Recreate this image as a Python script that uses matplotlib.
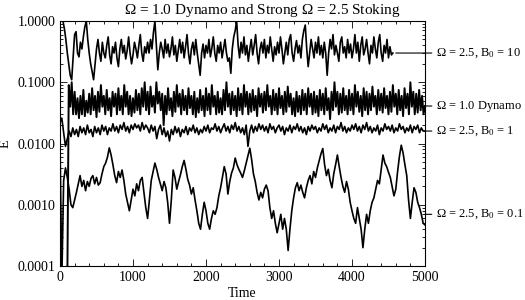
"""
Omega = 1.0 dynamo vs strong Omega = 2.5 stoking: energy E over time
"""
import numpy as np
import matplotlib
matplotlib.use('Agg')
import matplotlib.pyplot as plt
from matplotlib.ticker import FormatStrFormatter, MultipleLocator, LogLocator

plt.rcParams['font.family'] = ['Liberation Serif', 'DejaVu Serif']
plt.rcParams['mathtext.fontset'] = 'custom'
plt.rcParams['mathtext.rm'] = 'Liberation Serif'
plt.rcParams['mathtext.it'] = 'Liberation Serif:italic'

# Omega = 2.5, B0 = 10 (t = 0..4560, step 20)
t_b10 = np.arange(0, 4561, 20)
e_b10 = [
    1.5, 1.2, 1.0, 0.75, 0.5, 0.3, 0.2, 0.13, 0.11, 0.25,
    0.6, 0.67, 0.3, 0.26, 0.45, 0.35, 0.55, 0.8, 1.0, 0.5,
    0.3, 0.2, 0.15, 0.11, 0.2, 0.35, 0.5, 0.3, 0.22, 0.45,
    0.3, 0.25, 0.4, 0.55, 0.28, 0.2, 0.38, 0.3, 0.45, 0.25,
    0.18, 0.35, 0.5, 0.3, 0.4, 0.24, 0.33, 0.55, 0.3, 0.2,
    0.28, 0.45, 0.35, 0.25, 0.4, 0.6, 0.3, 0.22, 0.38, 0.3,
    0.45, 0.3, 0.5, 0.35, 0.65, 1.0, 0.4, 0.16, 0.3, 0.45,
    0.35, 0.25, 0.5, 0.3, 0.42, 0.26, 0.35, 0.55, 0.28, 0.4,
    0.22, 0.33, 0.5, 0.3, 0.45, 0.25, 0.38, 0.6, 0.3, 0.2,
    0.35, 0.45, 0.28, 0.5, 0.3, 0.2, 0.13, 0.3, 0.42, 0.25,
    0.4, 0.3, 0.5, 0.26, 0.36, 0.55, 0.3, 0.22, 0.4, 0.3,
    0.45, 0.25, 0.35, 0.5, 0.3, 0.22, 0.25, 0.14, 0.35, 0.55,
    0.7, 1.0, 0.4, 0.25, 0.45, 0.3, 0.55, 0.28, 0.4, 0.22,
    0.35, 0.5, 0.28, 0.4, 0.6, 0.3, 0.2, 0.35, 0.45, 0.3,
    0.5, 0.25, 0.4, 0.3, 0.55, 0.35, 0.22, 0.38, 0.28, 0.45,
    0.3, 0.55, 0.35, 0.2, 0.3, 0.45, 0.28, 0.5, 0.6, 0.3,
    0.22, 0.35, 0.48, 0.3, 0.4, 0.25, 0.5, 0.7, 0.86, 0.35,
    0.18, 0.3, 0.5, 0.35, 0.25, 0.45, 0.3, 0.55, 0.28, 0.4,
    0.25, 0.45, 0.3, 0.13, 0.3, 0.5, 0.35, 0.6, 0.28, 0.4,
    0.3, 0.22, 0.45, 0.55, 0.3, 0.38, 0.25, 0.5, 0.3, 0.42,
    0.25, 0.35, 0.6, 0.3, 0.45, 0.22, 0.4, 0.55, 0.28, 0.35,
    0.5, 0.3, 0.2, 0.4, 0.3, 0.55, 0.35, 0.25, 0.45, 0.6,
    0.3, 0.22, 0.4, 0.3, 0.5, 0.25, 0.38, 0.28, 0.3,
]

# Omega = 1.0 dynamo (t = 0..5000, step 20)
t_dyn = np.arange(0, 5001, 20)
e_dyn = [
    2e-5, 2e-5, 2.5e-5, 3e-5, 4e-5, 5e-5, 0.09, 0.04, 0.1, 0.03,
    0.07, 0.03, 0.055, 0.026, 0.06, 0.03, 0.075, 0.028, 0.05, 0.032,
    0.065, 0.03, 0.08, 0.035, 0.06, 0.027, 0.07, 0.033, 0.09, 0.04,
    0.06, 0.03, 0.075, 0.035, 0.055, 0.028, 0.07, 0.04, 0.065, 0.03,
    0.08, 0.035, 0.06, 0.03, 0.09, 0.04, 0.07, 0.03, 0.06, 0.028,
    0.055, 0.032, 0.075, 0.035, 0.065, 0.03, 0.08, 0.04, 0.1, 0.035,
    0.07, 0.03, 0.085, 0.04, 0.06, 0.032, 0.1, 0.045, 0.07, 0.035,
    0.065, 0.02, 0.06, 0.03, 0.08, 0.035, 0.055, 0.028, 0.07, 0.033,
    0.09, 0.04, 0.065, 0.03, 0.075, 0.035, 0.06, 0.03, 0.08, 0.038,
    0.06, 0.03, 0.07, 0.027, 0.055, 0.032, 0.075, 0.035, 0.06, 0.028,
    0.08, 0.035, 0.065, 0.03, 0.09, 0.04, 0.06, 0.03, 0.07, 0.032,
    0.055, 0.03, 0.075, 0.035, 0.1, 0.04, 0.065, 0.03, 0.07, 0.035,
    0.06, 0.028, 0.08, 0.035, 0.065, 0.03, 0.09, 0.04, 0.07, 0.03,
    0.065, 0.033, 0.075, 0.035, 0.06, 0.028, 0.08, 0.04, 0.065, 0.032,
    0.07, 0.035, 0.09, 0.04, 0.06, 0.03, 0.075, 0.035, 0.065, 0.03,
    0.08, 0.038, 0.06, 0.03, 0.07, 0.033, 0.085, 0.04, 0.065, 0.03,
    0.055, 0.028, 0.07, 0.033, 0.06, 0.03, 0.075, 0.035, 0.065, 0.03,
    0.08, 0.04, 0.065, 0.03, 0.07, 0.032, 0.06, 0.028, 0.075, 0.035,
    0.065, 0.03, 0.08, 0.035, 0.055, 0.025, 0.07, 0.035, 0.1, 0.04,
    0.07, 0.03, 0.065, 0.032, 0.08, 0.035, 0.06, 0.03, 0.075, 0.035,
    0.065, 0.03, 0.09, 0.04, 0.07, 0.033, 0.06, 0.028, 0.08, 0.035,
    0.07, 0.03, 0.065, 0.035, 0.085, 0.04, 0.06, 0.03, 0.075, 0.035,
    0.065, 0.032, 0.08, 0.038, 0.06, 0.03, 0.07, 0.033, 0.09, 0.04,
    0.065, 0.03, 0.075, 0.035, 0.06, 0.028, 0.08, 0.038, 0.065, 0.03,
    0.1, 0.04, 0.07, 0.03, 0.065, 0.032, 0.075, 0.035, 0.06, 0.03,
    0.041,
]

# Omega = 2.5, B0 = 1 (t = 0..5000, step 25)
t_b1 = np.arange(0, 5001, 25)
e_b1 = [
    0.022, 0.026, 0.015, 0.009, 0.012, 0.016, 0.013, 0.018, 0.014, 0.017,
    0.013, 0.019, 0.015, 0.018, 0.014, 0.02, 0.015, 0.017, 0.013, 0.019,
    0.015, 0.018, 0.014, 0.02, 0.016, 0.019, 0.014, 0.018, 0.016, 0.021,
    0.016, 0.019, 0.015, 0.02, 0.017, 0.022, 0.016, 0.019, 0.015, 0.02,
    0.017, 0.021, 0.018, 0.02, 0.016, 0.022, 0.017, 0.02, 0.018, 0.015,
    0.02, 0.016, 0.019, 0.012, 0.017, 0.02, 0.014, 0.018, 0.013, 0.016,
    0.011, 0.017, 0.014, 0.019, 0.015, 0.018, 0.013, 0.017, 0.015, 0.019,
    0.014, 0.018, 0.016, 0.02, 0.015, 0.018, 0.014, 0.017, 0.015, 0.019,
    0.016, 0.02, 0.015, 0.018, 0.017, 0.021, 0.016, 0.019, 0.015, 0.018,
    0.021, 0.016, 0.019, 0.015, 0.02, 0.017, 0.022, 0.016, 0.019, 0.015,
    0.018, 0.014, 0.02, 0.009, 0.016, 0.02, 0.015, 0.019, 0.016, 0.021,
    0.017, 0.02, 0.016, 0.019, 0.015, 0.021, 0.017, 0.019, 0.015, 0.018,
    0.02, 0.016, 0.019, 0.014, 0.018, 0.016, 0.02, 0.015, 0.019, 0.017,
    0.021, 0.016, 0.019, 0.015, 0.018, 0.014, 0.019, 0.016, 0.02, 0.017,
    0.019, 0.015, 0.018, 0.016, 0.021, 0.017, 0.02, 0.015, 0.018, 0.016,
    0.02, 0.015, 0.019, 0.017, 0.022, 0.016, 0.019, 0.015, 0.018, 0.016,
    0.02, 0.017, 0.021, 0.016, 0.019, 0.015, 0.02, 0.017, 0.022, 0.016,
    0.019, 0.015, 0.018, 0.016, 0.02, 0.014, 0.018, 0.016, 0.021, 0.017,
    0.019, 0.016, 0.02, 0.015, 0.018, 0.016, 0.021, 0.017, 0.019, 0.015,
    0.018, 0.016, 0.02, 0.015, 0.019, 0.017, 0.02, 0.015, 0.018, 0.016,
    0.016,
]

# Omega = 2.5, B0 = 0.1 (t = 0..5000, step 25)
t_b01 = np.arange(0, 5001, 25)
e_b01 = [
    0.01, 0.00006, 0.0025, 0.004, 0.0028, 0.0018, 0.001, 0.0009, 0.0012, 0.0016,
    0.0022, 0.003, 0.002, 0.0025, 0.0017, 0.0024, 0.002, 0.0027, 0.003, 0.0022,
    0.0028, 0.0021, 0.0023, 0.0032, 0.0042, 0.0048, 0.006, 0.0085, 0.0065, 0.0045,
    0.003, 0.0023, 0.0035, 0.0028, 0.0037, 0.0025, 0.0015, 0.0011, 0.0008, 0.0012,
    0.0018, 0.0014, 0.0022, 0.0017, 0.0025, 0.0028, 0.0016, 0.0009, 0.0006, 0.0012,
    0.0025, 0.0035, 0.0048, 0.0038, 0.0028, 0.0022, 0.0017, 0.0024, 0.0019, 0.0011,
    0.0005, 0.0012, 0.0037, 0.0028, 0.0018, 0.0024, 0.0031, 0.0042, 0.0053, 0.0038,
    0.0026, 0.0021, 0.0015, 0.0019, 0.0012, 0.0008, 0.0005, 0.0004, 0.0007, 0.0011,
    0.0008, 0.0005, 0.0004, 0.0006, 0.0008, 0.0007, 0.0009, 0.0014, 0.0019, 0.0028,
    0.0042, 0.0032, 0.0015, 0.0024, 0.0033, 0.004, 0.0058, 0.0045, 0.0038, 0.0033,
    0.0028, 0.0036, 0.0048, 0.0065, 0.0084, 0.0055, 0.0032, 0.0024, 0.0016, 0.0012,
    0.0016, 0.0013, 0.0018, 0.0021, 0.0017, 0.0009, 0.0006, 0.0008, 0.0005, 0.00035,
    0.0005, 0.0007, 0.0004, 0.0006, 0.0004, 0.00018, 0.0004, 0.0008, 0.0013, 0.0019,
    0.0023, 0.0017, 0.0021, 0.0016, 0.0013, 0.0019, 0.0025, 0.003, 0.0022, 0.0035,
    0.0028, 0.004, 0.0052, 0.0068, 0.0083, 0.0045, 0.003, 0.0038, 0.0025, 0.0019,
    0.0032, 0.0045, 0.0065, 0.0042, 0.0028, 0.002, 0.0016, 0.0024, 0.0018, 0.0011,
    0.0008, 0.0006, 0.0005, 0.0009, 0.0006, 0.0004, 0.0002, 0.0004, 0.0007, 0.0005,
    0.0008, 0.0011, 0.0013, 0.0018, 0.0025, 0.0022, 0.0038, 0.0065, 0.0048, 0.0042,
    0.0034, 0.0028, 0.002, 0.0014, 0.0018, 0.0035, 0.0062, 0.0094, 0.007, 0.0045,
    0.003, 0.0012, 0.0006, 0.0011, 0.0019, 0.0016, 0.0011, 0.0009, 0.0007, 0.0005,
    0.00047,
]

labels = [r'$\Omega$ = 2.5, B$_0$ = 10', r'$\Omega$ = 1.0 Dynamo',
          r'$\Omega$ = 2.5, B$_0$ = 1', r'$\Omega$ = 2.5, B$_0$ = 0.1']
label_y = [0.30, 0.041, 0.016, 0.0007]

fig = plt.figure(figsize=(5.25, 3.0), dpi=100)
ax = fig.add_axes([0.1143, 0.113, 0.6952, 0.817])

series = [(t_b10, e_b10, 1.2), (t_dyn, e_dyn, 1.4), (t_b1, e_b1, 1.2), (t_b01, e_b01, 1.2)]
for t, e, w in series:
    ax.plot(t, e, color='black', lw=w)

ax.set_yscale('log')
ax.set_xlim(0, 5000)
ax.set_ylim(1e-4, 1.0)
ax.yaxis.set_major_formatter(FormatStrFormatter('%.4f'))
ax.yaxis.set_minor_locator(LogLocator(base=10, subs=np.arange(2, 10)))
ax.yaxis.set_minor_formatter(plt.NullFormatter())
ax.xaxis.set_major_locator(MultipleLocator(1000))
ax.xaxis.set_minor_locator(MultipleLocator(200))
ax.tick_params(which='both', direction='in', top=True, right=True, labelsize=10, width=0.6)
ax.tick_params(which='major', length=5)
ax.tick_params(which='minor', length=2.5)
for s in ax.spines.values():
    s.set_linewidth(0.8)

fig.text(0.5, 0.965, r'$\Omega$ = 1.0 Dynamo and Strong $\Omega$ = 2.5 Stoking',
         ha='center', va='center', fontsize=11)
ax.set_xlabel('Time', fontsize=10, labelpad=2)
ax.set_ylabel('E', fontsize=10, labelpad=4)

# labels on the right with short connector lines
starts = [t_b10[-1] + 40, 5000, 5000, 5000]
for lab, y, x0 in zip(labels, label_y, starts):
    ax.annotate(lab, xy=(x0, y), xytext=(5150, y), xycoords='data', textcoords='data',
                va='center', ha='left', fontsize=9, annotation_clip=False,
                arrowprops=dict(arrowstyle='-', lw=0.8, color='black', shrinkA=1, shrinkB=0))

fig.savefig('out.png', dpi=100)
